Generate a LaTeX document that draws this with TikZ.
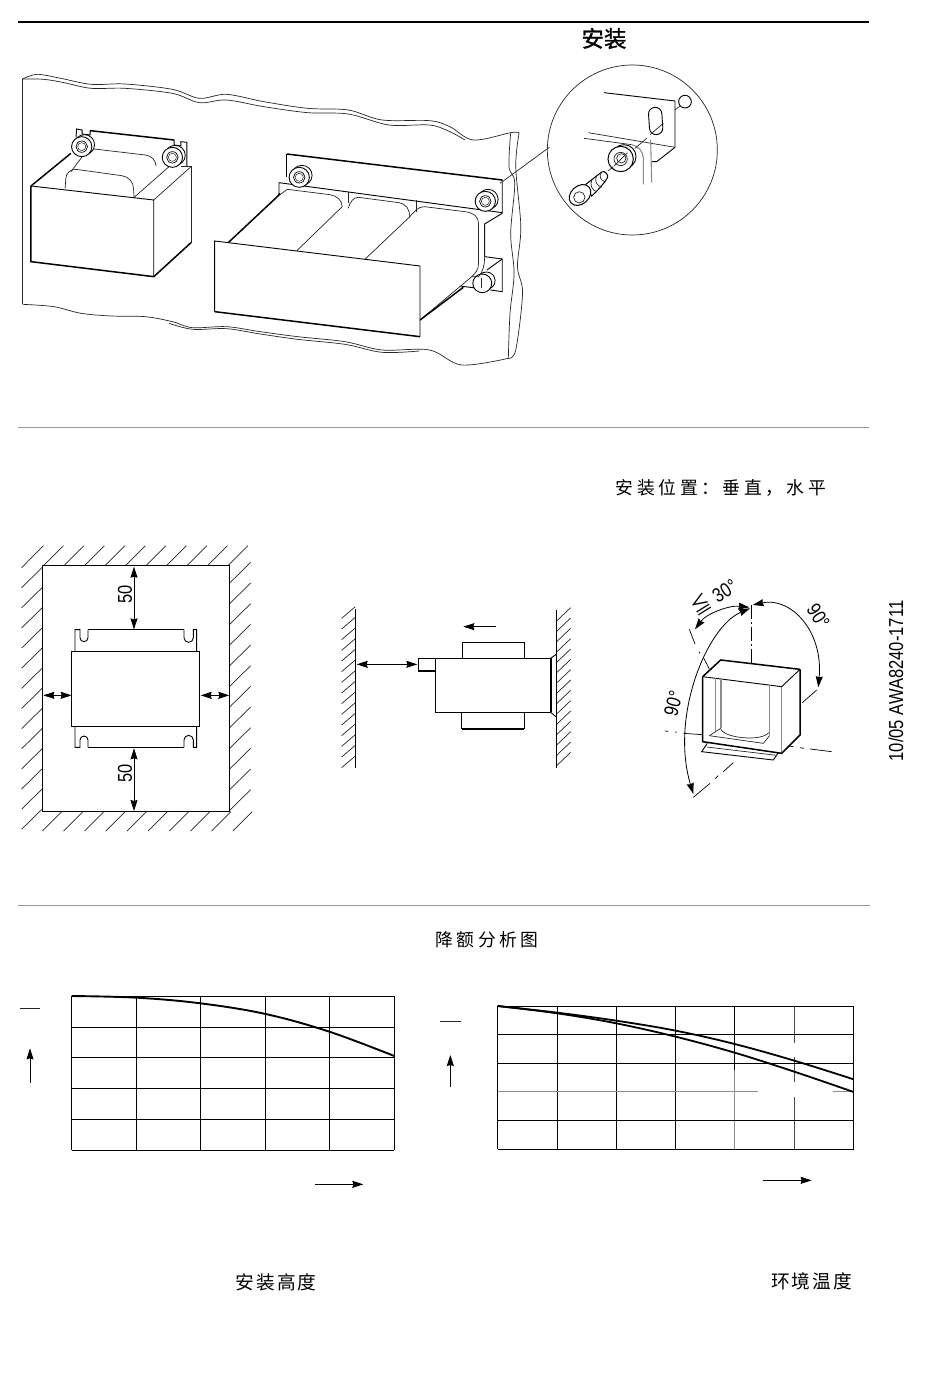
\documentclass[tikz,border=0pt]{standalone}
\usepackage{fontspec}
\setmainfont{Liberation Sans}
\newfontfamily\cjk{Noto Sans CJK SC}
\newfontfamily\cjkmid[FakeBold=1.2]{Noto Sans CJK SC}
\newfontfamily\cjkspace[LetterSpace=20]{Noto Sans CJK SC}
\newfontfamily\cjkwide[LetterSpace=11]{Noto Sans CJK SC}
\newfontfamily\cond[FakeStretch=0.82]{Liberation Sans}
\usetikzlibrary{arrows.meta}
\tikzset{
 thin line/.style={line width=.7pt,black!85},
 mid line/.style={line width=.9pt,black},
 thick line/.style={line width=1.5pt,black},
 grey line/.style={line width=1.1pt,black!45},
 rule/.style={line width=.6pt,black!40},
 dimarrow/.style={line width=.8pt,{Stealth[length=11pt,width=7pt,inset=1pt]}-{Stealth[length=11pt,width=7pt,inset=1pt]}},
 onearrow/.style={line width=.8pt,-{Stealth[length=11pt,width=7pt,inset=1pt]}},
 wave/.style={thin line,smooth,tension=.55},
 centre/.style={line width=.7pt,black,dash pattern=on 14pt off 3pt on 2pt off 3pt},
 zoomA/.style={shift={(10,60)},x=.3383pt,y=-.33333pt},
 zoomB/.style={shift={(500,60)},x=.33333pt,y=-.33333pt},
 zoomC/.style={shift={(10,535)},x=.33333pt,y=-.33333pt},
 zoomD/.style={shift={(330,595)},x=.33333pt,y=-.33333pt},
 zoomE/.style={shift={(650,570)},x=.33333pt,y=-.33333pt},
 zoomF/.style={shift={(10,980)},x=.33333pt,y=-.33333pt},
 zoomG/.style={shift={(430,990)},x=.33333pt,y=-.33333pt},
}
\newcommand{\screwat}[2]{%
 \fill[white,draw=black,line width=.8pt] (#1+8,#2-6) circle[radius=30];
 \fill[white,draw=black,line width=.9pt] (#1,#2) circle[radius=30];
 \draw[line width=.7pt] (#1,#2) circle[radius=17];
 \draw[line width=.4pt] (#1,#2) circle[radius=12];
}
\begin{document}
\begin{tikzpicture}[x=1pt,y=-1pt]
\useasboundingbox (0,0) rectangle (950,1378);
\fill[white] (0,0) rectangle (950,1378);
% rules
\draw[line width=2pt] (18,22) -- (869,22);
\draw[rule] (18,427.5) -- (869,427.5);
\draw[rule] (18,905) -- (870,905);
% titles
\node[inner sep=0pt] (t1) at (604,38.5) {\cjkmid\fontsize{22.5}{22.5}\selectfont 安装};
\node[inner sep=0pt] (t2) at (721,488) {\cjkspace\fontsize{17.8}{17.8}\selectfont 安装位置：垂直，水平};
\node[inner sep=0pt] (t3) at (487,940) {\cjkspace\fontsize{17.8}{17.8}\selectfont 降额分析图};
\node[inner sep=0pt] (t4) at (276,1282) {\cjkwide\fontsize{18.7}{18.7}\selectfont 安装高度};
\node[inner sep=0pt] (t5) at (811.5,1281) {\cjkwide\fontsize{18.7}{18.7}\selectfont 环境温度};
\node[inner sep=0pt,rotate=90] (t6) at (896,681) {\cond\fontsize{20.2}{20.2}\selectfont 10/05 AWA8240-1711};

% --- panel
\begin{scope}[zoomA]
\draw[thin line] (37,733) -- (37,57);
\draw[wave] plot coordinates {(37,57) (80,43) (150,55) (240,73) (340,72) (480,88) (560,115) (640,103) (750,125) (880,145) (1000,150) (1100,180) (1240,182) (1300,200) (1370,240) (1480,218) (1505,218)};
\draw[wave] plot coordinates {(37,57) (100,58) (160,68) (240,85) (340,85) (480,100) (560,128) (640,120) (750,140) (880,158) (1000,162) (1120,195) (1240,195) (1300,215) (1345,240)};
\draw[wave] plot coordinates {(37,733) (130,740) (210,760) (300,768) (400,770) (480,785) (540,803) (640,800) (740,815) (850,830) (990,845) (1100,870) (1240,870) (1335,915) (1473,895)};
\draw[wave] plot coordinates {(470,790) (540,808) (640,806) (740,822) (850,838) (990,853) (1100,877) (1210,873)};
\draw[wave] plot coordinates {(1480,218) (1475,320) (1492,370) (1480,520) (1490,640) (1478,760) (1473,895)};
\draw[wave] plot coordinates {(1505,218) (1495,320) (1510,500) (1500,620) (1515,700) (1495,870) (1473,895)};

% left transformer
\draw[mid line] (195,232) -- (197,207) -- (213,210) -- (213,222) -- (237,225) -- (237,212);
\draw[thick line] (237,212) -- (485,240);
\draw[mid line] (485,240) -- (485,255) -- (505,258) -- (505,245) -- (523,247) -- (523,320);
\draw[thin line] (232,265) -- (400,285) .. controls (418,287) and (430,300) .. (432,318);
\draw[thin line] (180,335) -- (232,265);
\fill[white] (62,378) -- (425,420) -- (425,650) -- (62,605) -- cycle;
\fill[white] (165,355) -- (195,328) -- (330,347) -- (365,385) -- (367,412) -- (163,385) -- cycle;
\draw[thin line] (163,385) -- (165,355) .. controls (165,340) and (178,328) .. (195,328) -- (330,347) .. controls (350,350) and (365,365) .. (365,385) -- (367,412);
\draw[thin line] (367,412) -- (470,320);
\draw[thick line] (62,378) -- (180,280);
\draw[thin line] (505,320) -- (535,320) -- (535,548);
\draw[thin line] (535,320) -- (425,420);
\draw[thick line] (535,548) -- (425,650) -- (62,605) -- (62,378);
\draw[mid line] (62,378) -- (425,420) -- (425,650);
\screwat{212}{260}
\screwat{480}{292}

% right transformer
\draw[mid line] (818,350) -- (818,282);
\draw[thick line] (818,282) -- (1455,360);
\draw[mid line] (1455,360) -- (1455,460) -- (1403,492) -- (1403,590);
\draw[mid line] (795,405) -- (795,368) -- (1455,458);
\draw[thin line] (1000,395) -- (1000,440);
\draw[thin line] (1200,420) -- (1200,470);
\draw[mid line] (1403,590) -- (1455,597) -- (1455,695) -- (1420,690);
\draw[mid line] (1410,630) -- (1455,597);
\draw[mid line] (1330,678) -- (1390,686);
\fill[white,draw=black,line width=.8pt] (1408,662) circle[radius=26];
\fill[white,draw=black,line width=.9pt] (1396,670) circle[radius=28];
\draw[thin line] (1393,655) -- (1393,685);
% coils
\fill[white] (645,548) -- (790,410) -- (820,388) -- (945,404) -- (982,440) -- (1030,412) -- (1150,428) -- (1182,470) -- (1225,440) -- (1345,455) -- (1385,490) -- (1385,610) -- (1365,650) -- (1212,780) -- (1212,618) -- cycle;
\draw[thin line] (790,410) -- (820,388) -- (945,404) .. controls (965,407) and (982,420) .. (982,440) -- (848,572);
\draw[thin line] (1050,597) -- (1182,470);
\draw[thin line] (1000,445) .. controls (1005,425) and (1015,412) .. (1030,412) -- (1150,428) .. controls (1170,430) and (1182,450) .. (1182,470);
\draw[thin line] (1180,472) .. controls (1195,455) and (1205,440) .. (1225,440) -- (1345,455) .. controls (1370,458) and (1385,470) .. (1385,490) -- (1385,610) .. controls (1385,630) and (1375,640) .. (1365,650) -- (1212,780);
\draw[thin line] (1403,492) -- (1403,590) .. controls (1403,620) and (1395,640) .. (1385,650) -- (1365,650);
\draw[thick line] (645,548) -- (790,410) -- (798,400);
% screws
\screwat{855}{352}
\screwat{1405}{424}
% front plate
\fill[white] (605,543) -- (1212,618) -- (1212,830) -- (605,755) -- cycle;
\draw[mid line] (1212,830) -- (1212,618) -- (605,543) -- (605,755);
\draw[thick line] (605,755) -- (1212,830);
\draw[thick line] (1212,780) -- (1340,682);
\end{scope}

% --- detail circle
\begin{scope}[zoomB]
\draw[thin line] (397,270) circle[radius=255];
\draw[thin line] (0,370) -- (148,262);
\draw[mid line] (312,98) -- (525,123) -- (525,262) -- (470,305) -- (455,305);
\draw[thin line] (265,218) -- (525,262);
\draw[mid line,rotate around={4:(467,183)}] (447,162) arc[start angle=180,end angle=360,radius=20] -- (487,204) arc[start angle=0,end angle=180,radius=20] -- cycle;
\draw[thin line] (490,190) -- (450,224);
\draw[grey line] (452,240) -- (455,368);
\draw[thin line] (252,235) -- (395,254);
\draw[grey line] (395,254) .. controls (415,257) and (430,275) .. (430,295) -- (430,373);
\draw[mid line] (555,125) circle[radius=19];
\draw[thin line] (525,150) -- (541,137);
\draw[thin line] (440,235) -- (405,265);
\fill[white,draw=black,line width=.9pt] (372,290) circle[radius=36];
\fill[white,draw=black,line width=1pt] (362,297) circle[radius=38];
\draw[thin line] (362,297) circle[radius=20];
\draw[thin line] (364,295) circle[radius=14];
\draw[thin line] (342,318) -- (382,278);
\draw[thin line] (340,320) -- (325,332);
% bolt
\fill[white,draw=black,line width=1pt] (255,375) -- (305,336) .. controls (315,330) and (325,345) .. (323,352) .. controls (318,362) and (300,385) .. (275,408) -- cycle;
\draw[thin line] (276,358) .. controls (268,375) and (276,392) .. (292,396);
\draw[thin line] (290,348) .. controls (282,362) and (290,378) .. (306,382);
\draw[thin line] (304,337) .. controls (296,350) and (302,362) .. (317,366);
\fill[white,draw=black,line width=1pt,rotate around={42:(240,405)}] (240,405) ellipse[x radius=36,y radius=27];
\draw[thin line] (238,412) circle[radius=17];
\end{scope}

% --- clearance, front view
\begin{scope}[zoomC]
\foreach \i in {0,...,9} \draw[thin line] ({100+61.5*\i},92) -- ({160+61.5*\i},32);
\draw[thin line] (35,98) -- (100,32);
\foreach \i in {0,...,12} \draw[thin line] (35,{158+60.4*\i}) -- (97,{97+60.4*\i});
\foreach \i in {0,...,11} \draw[thin line] (658,{145+62*\i}) -- (722,{82+62*\i});
\foreach \i in {0,...,9} \draw[thin line] ({97+63.5*\i},888) -- ({155+63.5*\i},830);
\draw[mid line] (97,92) rectangle (658,828);
\draw[mid line] (195,350) -- (195,284) -- (210,284) -- (210,308) arc[start angle=180,end angle=0,radius=12] -- (234,284);
\draw[mid line] (522,284) -- (522,308) arc[start angle=180,end angle=0,radius=14] -- (550,284) -- (560,284) -- (560,350);
\draw[thick line] (234,284) -- (522,284);
\draw[mid line] (195,574) -- (195,637) -- (210,637) -- (210,615) arc[start angle=180,end angle=360,radius=12] -- (234,637);
\draw[mid line] (522,637) -- (522,615) arc[start angle=180,end angle=360,radius=14] -- (550,637) -- (560,637) -- (560,574);
\draw[thick line] (234,637) -- (522,637);
\draw[mid line] (185,350) rectangle (568,574);
\draw[dimarrow] (372,95) -- (372,283);
\draw[dimarrow] (372,640) -- (372,828);
\node[rotate=90,inner sep=0pt] (d1) at (345,177) {\cond\fontsize{20}{20}\selectfont 50};
\node[rotate=90,inner sep=0pt] (d2) at (345,716) {\cond\fontsize{20}{20}\selectfont 50};
\draw[onearrow] (142,481) -- (100,481);
\draw[onearrow] (142,481) -- (185,481);
\draw[onearrow] (615,481) -- (572,481);
\draw[onearrow] (615,481) -- (658,481);
\end{scope}

% --- clearance, side view
\begin{scope}[zoomD]
\foreach \i in {0,...,14} \draw[thin line] (35,{70+32*\i}) -- (76,{35+32*\i});
\foreach \i in {0,...,14} \draw[thin line] (680,{78+31*\i}) -- (722,{38+31*\i});
\draw[mid line] (76,42) -- (76,520);
\draw[mid line] (680,45) -- (680,518);
\draw[mid line] (396,190) -- (396,142);
\draw[thick line] (396,142) -- (583,142);
\draw[mid line] (583,142) -- (583,190);
\draw[mid line] (395,352) -- (395,402);
\draw[thick line] (395,402) -- (583,402);
\draw[mid line] (583,402) -- (583,352);
\draw[mid line] (317,190) rectangle (662,352);
\draw[mid line] (317,190) -- (265,190) -- (265,228);
\draw[thick line] (265,228) -- (317,228);
\draw[thick line] (664,190) -- (664,352);
\draw[mid line] (662,190) -- (680,177);
\draw[mid line] (662,352) -- (680,367);
\draw[dimarrow] (80,208) -- (262,208);
\draw[onearrow] (497,95) -- (400,95);
\end{scope}

% --- tilt view
\begin{scope}[zoomE]
\draw[centre] (303,105) -- (303,315);
\draw[line width=.7pt] (118,178) -- (135,222);
\draw[line width=.7pt] (147,245) -- (150,250);
\draw[line width=.7pt] (160,262) -- (178,297);
\draw[line width=.7pt] (457,398) -- (500,360);
\draw[line width=.7pt] (130,682) -- (180,640);
\draw[line width=.7pt] (195,626) -- (205,617);
\draw[line width=.7pt] (220,605) -- (250,578);
\draw[line width=.7pt] (45,483) -- (55,484);
\draw[line width=.7pt] (75,486) -- (80,487);
\draw[line width=.7pt] (100,490) -- (158,494);
\draw[line width=.7pt] (395,525) -- (430,530);
\draw[line width=.7pt] (450,533) -- (462,535);
\draw[line width=.7pt] (480,537) -- (545,545);
\draw[mid line] (172,520) -- (155,545) -- (370,570) -- (385,548);
\draw[thin line] (170,531) -- (380,556);
\fill[white] (158,320) -- (212,270) -- (450,298) -- (450,495) -- (395,550) -- (158,515) -- cycle;
\draw[thick line] (158,320) -- (212,270) -- (450,298);
\draw[thick line] (450,298) -- (450,495) -- (395,550) -- (158,515) -- (158,320);
\draw[mid line] (158,320) -- (395,350) -- (450,298);
\draw[grey line] (197,325) -- (197,485);
\draw[grey line] (213,327) -- (213,475);
\draw[grey line] (358,345) -- (358,498);
\draw[grey line] (395,350) -- (395,545);
\draw[thin line] (178,497) -- (212,475);
\draw[thin line] (178,497) -- (340,520) -- (358,498);
\draw[thin line] (213,478) .. controls (225,505) and (335,515) .. (356,488);
\draw[dimarrow] (300,115) .. controls (170,170) and (60,440) .. (130,672);
\draw[dimarrow] (135,178) .. controls (170,130) and (240,105) .. (298,112);
\draw[dimarrow] (308,105) .. controls (420,80) and (520,180) .. (505,352);
\node[inner sep=0pt,rotate=32] (a1) at (190,80) {\fontsize{20}{20}\selectfont{\cjk ≦} \cond 30°};
\node[inner sep=0pt,rotate=-57] (a2) at (505,138) {\cond\fontsize{20}{20}\selectfont 90°};
\node[inner sep=0pt,rotate=75] (a3) at (70,400) {\cond\fontsize{20}{20}\selectfont 90°};
\end{scope}

% --- chart 1
\begin{scope}[zoomF]
\foreach \x in {185,380,572,767,958,1153} \draw[mid line] (\x,48) -- (\x,511);
\foreach \y in {48,142,232,325,418,511} \draw[mid line] (185,\y) -- (1153,\y);
\draw[line width=1.9pt,smooth,tension=.6] plot coordinates {(185,48) (380,53) (572,70) (767,102) (958,155) (1153,228)};
\draw[thin line] (30,85) -- (90,85);
\draw[onearrow] (60,308) -- (60,205);
\draw[onearrow] (915,613) -- (1060,613);
\end{scope}

% --- chart 2
\begin{scope}[zoomG]
\foreach \x in {203,382,559,737,1271} \draw[mid line] (\x,48) -- (\x,478);
\draw[mid line] (914,48) -- (914,240);
\draw[grey line] (914,240) -- (914,478);
\draw[mid line,black!70] (1093,48) -- (1093,158);
\draw[mid line,black!70] (1093,200) -- (1093,275);
\draw[mid line,black!70] (1093,322) -- (1093,478);
\foreach \y in {48,133,220,392,478} \draw[mid line] (203,\y) -- (1271,\y);
\draw[grey line] (203,305) -- (983,305);
\draw[grey line] (1210,305) -- (1271,305);
\draw[line width=1.8pt,smooth,tension=.6] plot coordinates {(203,48) (382,68) (559,92) (737,122) (914,162) (1093,212) (1271,268)};
\draw[line width=1.8pt,smooth,tension=.6] plot coordinates {(203,48) (382,70) (559,100) (737,140) (914,188) (1093,245) (1271,306)};
\draw[thin line] (30,94) -- (92,94);
\draw[onearrow] (61,290) -- (61,195);
\draw[onearrow] (998,571) -- (1145,571);
\end{scope}
\end{tikzpicture}
\end{document}
